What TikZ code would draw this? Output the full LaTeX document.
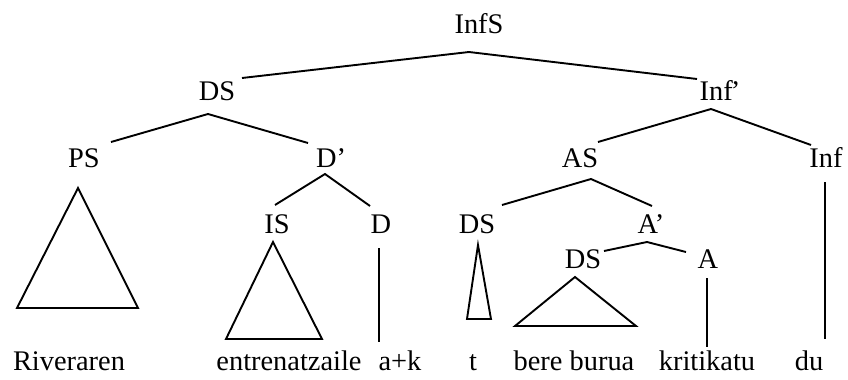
\documentclass[tikz,border=0pt]{standalone}
\usepackage{fontspec}
\setmainfont{Liberation Serif}
\begin{document}
\begin{tikzpicture}[x=0.5pt,y=-0.5pt,line width=0.95pt,
    every node/.style={inner sep=0pt,anchor=base,font=\fontsize{14.2}{17}\selectfont}]
  \useasboundingbox (0,0) rectangle (848,380);
  % category labels
  \node (InfS) at (479,33) {InfS};
  \node (DS) at (217,100) {DS};
  \node (Infp) at (720,100) {Inf\kern-0.07em’};
  \node (PS) at (84,167) {PS};
  \node (Dp) at (331,167) {D’};
  \node (AS) at (580,167) {AS};
  \node (Inf) at (826,167) {Inf};
  \node (IS) at (277,234) {IS};
  \node (D) at (381,234) {D};
  \node (DSt) at (477,234) {DS};
  \node (Ap) at (651,234) {A’};
  \node (DSb) at (583,268) {DS};
  \node (A) at (708,268) {A};
  % words
  \node (riv) at (69,370) {Riveraren};
  \node (entr) at (289,370) {entrenatzaile};
  \node (ak) at (400,370) {a+k};
  \node (t) at (473,370) {t};
  \node (bere) at (574,370) {bere burua};
  \node (krit) at (707,370) {kritikatu};
  \node (du) at (809,370) {du};
  % line ends
  \coordinate (InfS-b) at (469,52);
  \coordinate (DS-t) at (242,78);   \coordinate (DS-b) at (208,114);
  \coordinate (Infp-t) at (697,79); \coordinate (Infp-b) at (711,109);
  \coordinate (PS-t) at (111,142);  \coordinate (PS-b) at (78,188);
  \coordinate (Dp-t) at (308,143);  \coordinate (Dp-b) at (325,174);
  \coordinate (AS-t) at (598,142);  \coordinate (AS-b) at (591,179);
  \coordinate (Inf-t) at (811,145); \coordinate (Inf-b) at (825,182);
  \coordinate (IS-t) at (275,205);  \coordinate (IS-b) at (273,242);
  \coordinate (D-t) at (370,206);   \coordinate (D-b) at (379,248);
  \coordinate (DSt-t) at (502,205); \coordinate (DSt-b) at (478,245);
  \coordinate (Ap-t) at (652,206);  \coordinate (Ap-b) at (647,242);
  \coordinate (DSb-t) at (604,251); \coordinate (DSb-b) at (575,277);
  \coordinate (A-t) at (686,252);   \coordinate (A-b) at (707,278);
  \coordinate (ak-t) at (379,342);
  \coordinate (krit-t) at (707,347);
  \coordinate (du-t) at (825,339);
  % branches
  \draw (DS-t) -- (InfS-b) -- (Infp-t);
  \draw (PS-t) -- (DS-b) -- (Dp-t);
  \draw (AS-t) -- (Infp-b) -- (Inf-t);
  \draw (IS-t) -- (Dp-b) -- (D-t);
  \draw (DSt-t) -- (AS-b) -- (Ap-t);
  \draw (DSb-t) -- (Ap-b) -- (A-t);
  \draw (D-b) -- (ak-t);
  \draw (A-b) -- (krit-t);
  \draw (Inf-b) -- (du-t);
  % triangles
  \draw (PS-b) -- (17,308) -- (138,308) -- cycle;
  \draw (IS-b) -- (226,339) -- (322,339) -- cycle;
  \draw (DSt-b) -- (467,319) -- (491,319) -- cycle;
  \draw (DSb-b) -- (515,326) -- (636,326) -- cycle;
\end{tikzpicture}
\end{document}
